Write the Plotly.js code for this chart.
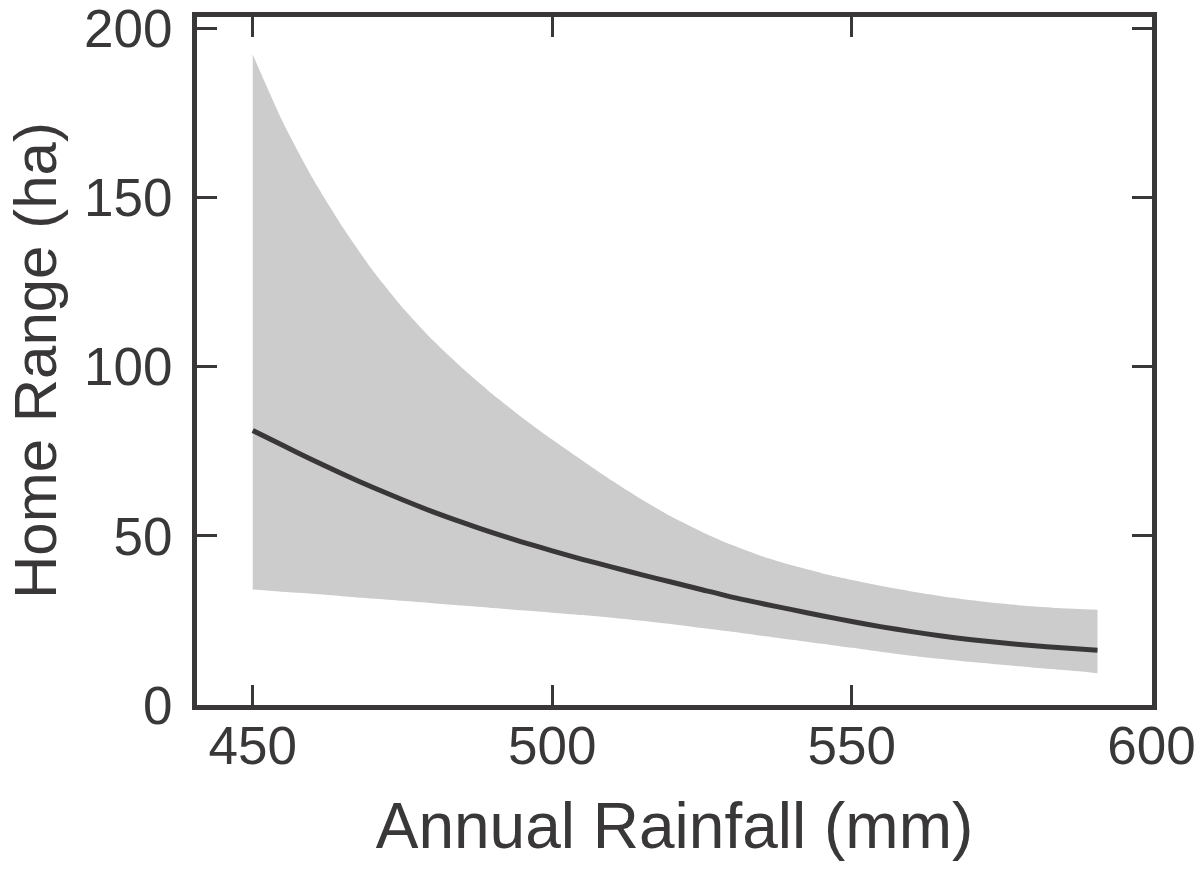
<!DOCTYPE html>
<html>
<head>
<meta charset="utf-8">
<script src="https://cdn.plot.ly/plotly-3.0.1.min.js"></script>
<style>html,body{margin:0;padding:0;background:#fff;}#chart{width:1200px;height:871px;}</style>
</head>
<body>
<div id="chart"></div>
<script>
// Annual rainfall (mm) at which values were read
const rainfall = [450, 455, 460, 465, 470, 475, 480, 485, 490, 495, 500, 505, 510, 515, 520, 525, 530, 535, 540, 545, 550, 555, 560, 565, 570, 575, 580, 585, 591];
// Fitted home range (ha)
const homeRange = [81.2, 76.8, 72.5, 68.3, 64.4, 60.7, 57.2, 54.0, 51.0, 48.2, 45.6, 43.1, 40.8, 38.5, 36.3, 34.1, 31.9, 30.0, 28.2, 26.4, 24.7, 23.1, 21.7, 20.4, 19.3, 18.4, 17.6, 16.9, 16.2];
// Upper confidence bound (ha)
const upperCI = [192.4, 172.5, 155.8, 141.4, 128.6, 117.6, 108.0, 99.6, 92.0, 85.0, 78.5, 72.3, 66.3, 60.7, 55.6, 51.2, 47.3, 44.0, 41.3, 39.0, 37.0, 35.2, 33.6, 32.2, 31.0, 30.0, 29.2, 28.6, 28.2];
// Lower confidence bound (ha)
const lowerCI = [34.2, 33.5, 32.9, 32.2, 31.5, 30.8, 30.1, 29.4, 28.7, 28.0, 27.3, 26.6, 25.8, 24.9, 23.9, 22.8, 21.7, 20.5, 19.3, 18.1, 16.9, 15.7, 14.6, 13.6, 12.7, 11.9, 11.1, 10.4, 9.4];

const xTicks = [450, 500, 550, 600];
const yTicks = [0, 50, 100, 150, 200];
const xTitle = 'Annual Rainfall (mm)';
const yTitle = 'Home Range (ha)';

const dark = '#3a3738';
const fontFam = '"Liberation Sans", Arial, sans-serif';

const traces = [
  {x: rainfall, y: lowerCI, type: 'scatter', mode: 'lines', line: {width: 0, color: '#cccccc', shape: 'spline', smoothing: 0.6}, hoverinfo: 'skip', showlegend: false},
  {x: rainfall, y: upperCI, type: 'scatter', mode: 'lines', fill: 'tonexty', fillcolor: '#cccccc', line: {width: 0, color: '#cccccc', shape: 'spline', smoothing: 0.6}, hoverinfo: 'skip', showlegend: false},
  {x: rainfall, y: homeRange, type: 'scatter', mode: 'lines', line: {width: 5, color: dark, shape: 'spline', smoothing: 0.6}, showlegend: false}
];

const axisCommon = {
  showgrid: false, zeroline: false,
  showline: true, linecolor: dark, linewidth: 5, mirror: 'ticks',
  ticks: 'inside', ticklen: 20, tickwidth: 3, tickcolor: dark,
  ticklabeloverflow: 'allow',
  tickfont: {family: fontFam, size: 53, color: dark}
};

const layout = {
  width: 1200, height: 871,
  paper_bgcolor: '#ffffff', plot_bgcolor: '#ffffff',
  margin: {l: 197, r: 48, t: 17, b: 166},
  showlegend: false,
  xaxis: Object.assign({}, axisCommon, {
    range: [440.7, 600.1], tickvals: xTicks, ticktext: xTicks.map(String),
    ticklabelstandoff: -10,
    title: {text: xTitle, font: {family: fontFam, size: 64, color: dark}, standoff: 31}
  }),
  yaxis: Object.assign({}, axisCommon, {
    range: [0, 203.5], tickvals: yTicks, ticktext: yTicks.map(String),
    ticklabelstandoff: 9
  }),
  annotations: [{
    text: yTitle, textangle: -90, showarrow: false,
    xref: 'paper', yref: 'paper', x: -0.1696, y: 0.5, xanchor: 'center', yanchor: 'middle',
    font: {family: fontFam, size: 60, color: dark}
  }]
};

Plotly.newPlot('chart', traces, layout, {displayModeBar: false, staticPlot: true});
</script>
</body>
</html>
